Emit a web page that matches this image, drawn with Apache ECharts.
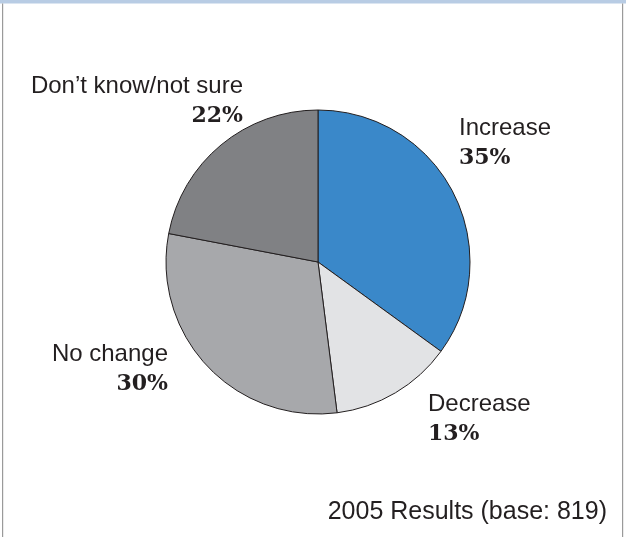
<!DOCTYPE html>
<html>
<head>
<meta charset="utf-8">
<script src="https://cdn.jsdelivr.net/npm/echarts@6/dist/echarts.min.js"></script>
<style>
html,body{margin:0;padding:0;background:#fff;}
#chart{width:626px;height:537px;}
</style>
</head>
<body>
<div id="chart"></div>
<script>
// Data
const categories = ['Increase', 'Decrease', 'No change', 'Don\u2019t know/not sure'];
const values = [35, 13, 30, 22];
const footnote = '2005 Results (base: 819)';

// Styling / layout (not data)
const colors = ['#3a88c9', '#e2e3e5', '#a7a8ab', '#808184'];
const labelPos = [
  {x: 459, y: 113, align: 'left'},
  {x: 428, y: 389, align: 'left'},
  {x: 168, y: 339, align: 'right'},
  {x: 243, y: 71, align: 'right'}
];

const chart = echarts.init(document.getElementById('chart'), null, {renderer: 'canvas'});
chart.setOption({
  animation: false,
  backgroundColor: '#ffffff',
  graphic: [
    {type: 'rect', shape: {x: 0, y: 0, width: 626, height: 3.5}, style: {fill: '#b8cce4'}},
    {type: 'rect', shape: {x: 2, y: 3.5, width: 1.2, height: 534}, style: {fill: '#9a9a9a'}},
    {type: 'rect', shape: {x: 622, y: 3.5, width: 1.2, height: 534}, style: {fill: '#9a9a9a'}},
    {type: 'text', right: 19, top: 500, style: {text: footnote, font: '25px "Liberation Sans", Arial, sans-serif', fill: '#231f20'}}
  ],
  series: [{
    type: 'pie',
    center: [318, 262],
    radius: [0, 152],
    startAngle: 90,
    clockwise: true,
    data: categories.map((c, i) => ({name: c, value: values[i], itemStyle: {color: colors[i]}})),
    itemStyle: {borderColor: '#231f20', borderWidth: 1},
    labelLine: {show: false},
    emphasis: {disabled: true},
    label: {
      show: true,
      position: 'outside',
      overflow: 'none',
      formatter: '{n|{b}}\n{p|{c}%}',
      rich: {
        n: {fontFamily: '"Liberation Sans", Arial, sans-serif', fontSize: 24, color: '#231f20', lineHeight: 30},
        p: {fontFamily: '"DejaVu Serif", serif', fontWeight: 'bold', fontSize: 22, color: '#231f20', lineHeight: 30}
      }
    },
    labelLayout: function (params) {
      const p = labelPos[params.dataIndex];
      return {x: p.x, y: p.y, align: p.align, verticalAlign: 'top', hideOverlap: false, moveOverlap: false, width: 300};
    }
  }]
});
</script>
</body>
</html>
